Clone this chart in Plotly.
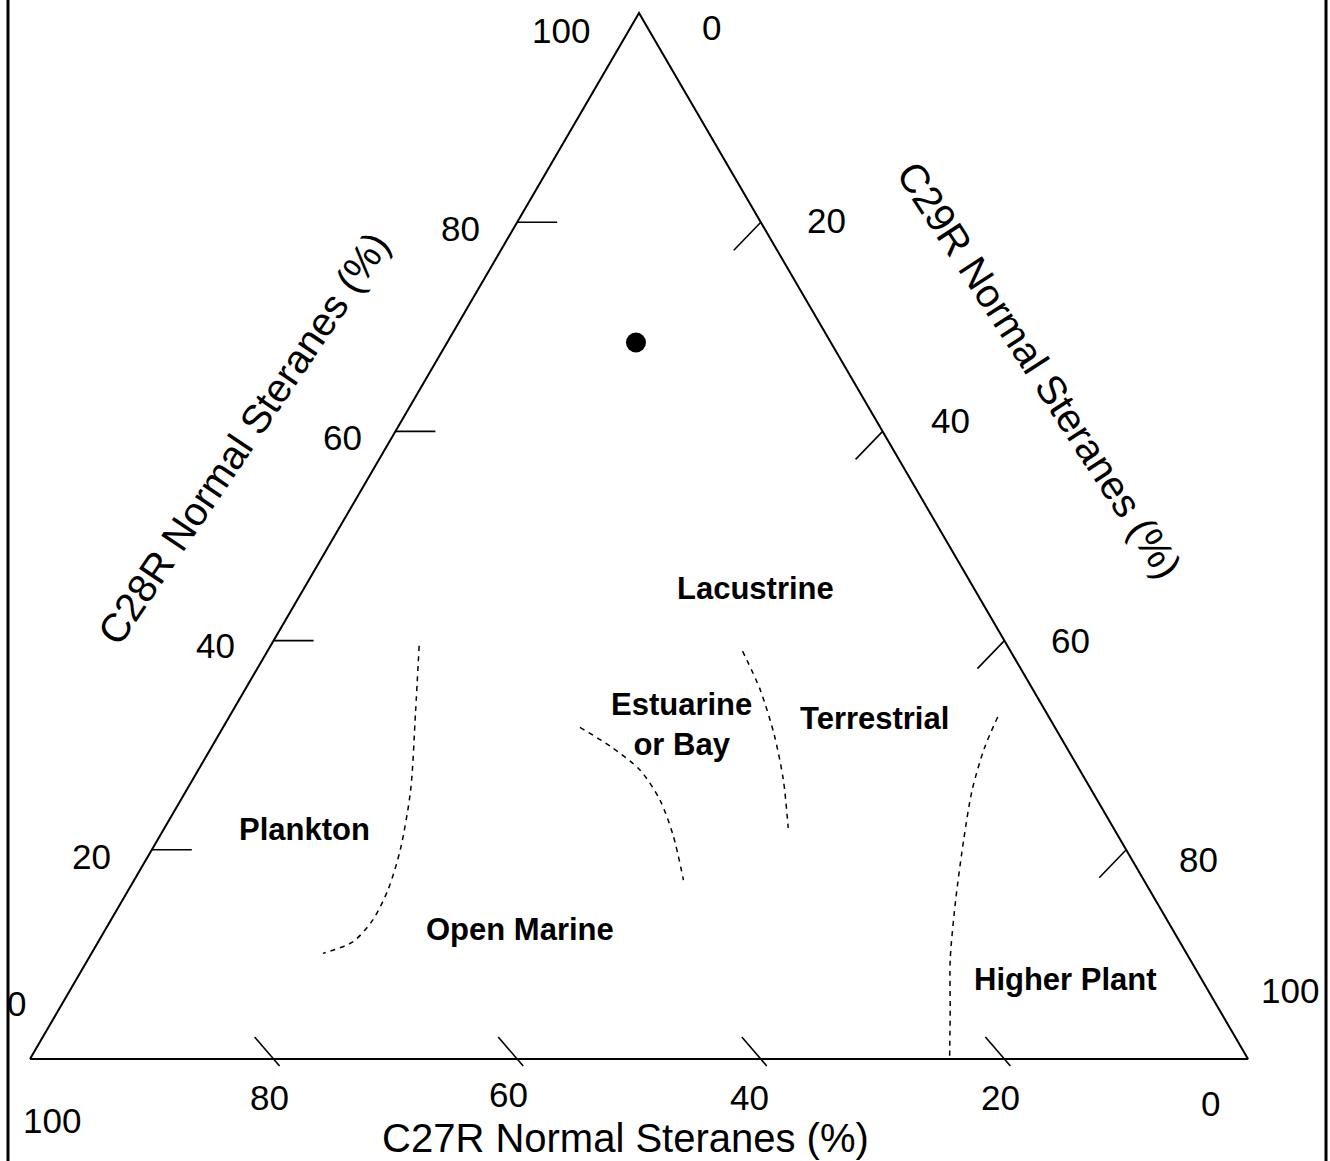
import plotly.graph_objects as go

# ---------------- data (ternary percentages: C27, C28, C29) ----------------
tick_values = [0, 20, 40, 60, 80, 100]

title_c27 = "C27R Normal Steranes (%)"
title_c28 = "C28R Normal Steranes (%)"
title_c29 = "C29R Normal Steranes (%)"

sample_c27 = [16.0]
sample_c28 = [68.5]
sample_c29 = [15.5]

plankton_c27 = [48.3, 51.8, 55.9, 59.6, 62.5, 65.2, 67.9, 70.9]
plankton_c28 = [39.5, 33.1, 25.7, 20.0, 16.2, 13.3, 11.2, 10.1]
plankton_c29 = [12.2, 15.1, 18.4, 20.4, 21.3, 21.5, 20.9, 19.0]

estuarine_c27 = [39.0, 37.4, 36.1, 35.9, 36.5, 37.8]
estuarine_c28 = [31.7, 29.9, 27.6, 24.8, 21.4, 17.1]
estuarine_c29 = [29.3, 32.7, 36.3, 39.3, 42.1, 45.1]

terrestrial_c27 = [22.0, 22.4, 23.4, 24.8, 26.7]
terrestrial_c28 = [39.0, 35.3, 31.0, 26.7, 22.1]
terrestrial_c29 = [39.0, 42.3, 45.6, 48.5, 51.2]

higherplant_c27 = [4.2, 6.8, 9.8, 12.9, 16.4, 19.7, 22.1, 24.5]
higherplant_c28 = [32.7, 29.7, 25.7, 20.9, 15.2, 9.5, 4.7, 0.0]
higherplant_c29 = [63.1, 63.5, 64.5, 66.2, 68.4, 70.8, 73.2, 75.5]

region_names = ["Lacustrine", "Estuarine<br>or Bay", "Terrestrial",
                "Plankton", "Open Marine", "Higher Plant"]
region_c27 = [17.9, 30.5, 14.4, 66.5, 53.6, 11.2]
region_c28 = [45.0, 32.0, 32.6, 21.9, 12.4, 7.6]
region_c29 = [37.1, 37.5, 53.0, 11.6, 34.0, 81.2]

# ---------------- styling / geometry ----------------
W, H = 1330, 1161
PX_X = 12.18   # pixels per x unit
PX_Y = 10.46   # pixels per y unit
X0_PX = 30     # pixel of the left vertex
BASE_PX = 1059 # pixel of the base line
X_RANGE = [-X0_PX / PX_X, (W - X0_PX) / PX_X]
Y_RANGE = [-(H - BASE_PX) / PX_Y, BASE_PX / PX_Y]
FONT = "Liberation Sans, Arial, sans-serif"
TICK_FONT = 35
TITLE_FONT = 40
REGION_FONT = 31


def to_xy(c27, c28, c29):
    xs, ys = [], []
    for a, b, c in zip(c27, c28, c29):
        s = a + b + c
        b2, c2 = b / s * 100, c / s * 100
        xs.append(c2 + b2 / 2)
        ys.append(b2)
    return xs, ys


def px_vec(dx, dy):
    # pixel displacement (down positive) to data displacement
    return dx / PX_X, -dy / PX_Y


fig = go.Figure()

# triangle outline
tx, ty = to_xy([100, 0, 0, 100], [0, 100, 0, 0], [0, 0, 100, 0])
fig.add_trace(go.Scatter(x=tx, y=ty, mode="lines",
                         line=dict(color="black", width=2), hoverinfo="skip"))

# tick marks
inner = tick_values[1:-1]
kx, ky = [], []
for v in inner:
    # left edge (C28)
    (x0,), (y0,) = to_xy([100 - v], [v], [0])
    dx, dy = px_vec(40, 0)
    kx += [x0, x0 + dx, None]
    ky += [y0, y0 + dy, None]
    # right edge (C29)
    (x0,), (y0,) = to_xy([0], [100 - v], [v])
    dx, dy = px_vec(-27, 28)
    kx += [x0, x0 + dx, None]
    ky += [y0, y0 + dy, None]
    # bottom edge (C27)
    (x0,), (y0,) = to_xy([v], [0], [100 - v])
    ax, ay = px_vec(-19, -22)
    bx, by = px_vec(6, 7)
    kx += [x0 + ax, x0 + bx, None]
    ky += [y0 + ay, y0 + by, None]
fig.add_trace(go.Scatter(x=kx, y=ky, mode="lines",
                         line=dict(color="black", width=1.6), hoverinfo="skip"))

# dashed boundary curves
for c27, c28, c29 in [(plankton_c27, plankton_c28, plankton_c29),
                      (estuarine_c27, estuarine_c28, estuarine_c29),
                      (terrestrial_c27, terrestrial_c28, terrestrial_c29),
                      (higherplant_c27, higherplant_c28, higherplant_c29)]:
    cx, cy = to_xy(c27, c28, c29)
    fig.add_trace(go.Scatter(x=cx, y=cy, mode="lines",
                             line=dict(color="black", width=1.5, dash="5px,5px",
                                       shape="spline", smoothing=0.8),
                             hoverinfo="skip"))

# sample point
sx, sy = to_xy(sample_c27, sample_c28, sample_c29)
fig.add_trace(go.Scatter(x=sx, y=sy, mode="markers",
                         marker=dict(color="black", size=20)))

annotations = []

# tick labels: offsets in pixels (dx right, dy down)
left_off = {0: (-14, -56), 20: (-60, 7), 40: (-58, 5), 60: (-53, 6), 80: (-57, 6), 100: (-78, 17)}
right_off = {0: (72, 14), 20: (66, -2), 40: (68, -11), 60: (66, 0), 80: (72, 10), 100: (42, -69)}
bottom_off = {0: (-38, 44), 20: (-4, 38), 40: (-11, 38), 60: (-9, 35), 80: (-4, 38), 100: (22, 61)}

for v in tick_values:
    for pos, off in [(([100 - v], [v], [0]), left_off[v]),
                     (([0], [100 - v], [v]), right_off[v]),
                     (([v], [0], [100 - v]), bottom_off[v])]:
        (x0,), (y0,) = to_xy(*pos)
        annotations.append(dict(x=x0, y=y0, xref="x", yref="y", text=str(v),
                                showarrow=False, xshift=off[0], yshift=-off[1],
                                xanchor="center", yanchor="middle",
                                font=dict(family=FONT, size=TICK_FONT, color="black")))

# axis titles
for pos, off, txt, ang in [(([50], [50], [0]), (-91, -98), title_c28, -56),
                           (([0], [50], [50]), (96, -166), title_c29, 57),
                           (([50], [0], [50]), (-14, 79), title_c27, 0)]:
    (x0,), (y0,) = to_xy(*pos)
    annotations.append(dict(x=x0, y=y0, xref="x", yref="y", text=txt,
                            showarrow=False, xshift=off[0], yshift=-off[1],
                            textangle=ang, xanchor="center", yanchor="middle",
                            font=dict(family=FONT, size=TITLE_FONT, color="black")))

# region labels
rx, ry = to_xy(region_c27, region_c28, region_c29)
for name, x0, y0 in zip(region_names, rx, ry):
    annotations.append(dict(x=x0, y=y0, xref="x", yref="y",
                            text="<b>%s</b>" % name.replace("<br>", "</b><br><b>"),
                            showarrow=False, xanchor="center", yanchor="middle",
                            font=dict(family=FONT, size=REGION_FONT, color="black")))

# frame lines at left and right of the picture
shapes = [
    dict(type="line", xref="paper", yref="paper", x0=8 / W, x1=8 / W, y0=0, y1=1,
         line=dict(color="black", width=3)),
    dict(type="line", xref="paper", yref="paper", x0=1326 / W, x1=1326 / W, y0=0, y1=1,
         line=dict(color="black", width=3)),
]

fig.update_layout(
    width=W, height=H,
    margin=dict(l=0, r=0, t=0, b=0),
    paper_bgcolor="white", plot_bgcolor="white",
    showlegend=False,
    xaxis=dict(range=X_RANGE, visible=False, fixedrange=True),
    yaxis=dict(range=Y_RANGE, visible=False, fixedrange=True),
    annotations=annotations,
    shapes=shapes,
)

fig.write_html("out.html",
               config={"displayModeBar": False},
               post_script="document.body.style.margin='0';"
                           "document.body.style.overflow='hidden';")
